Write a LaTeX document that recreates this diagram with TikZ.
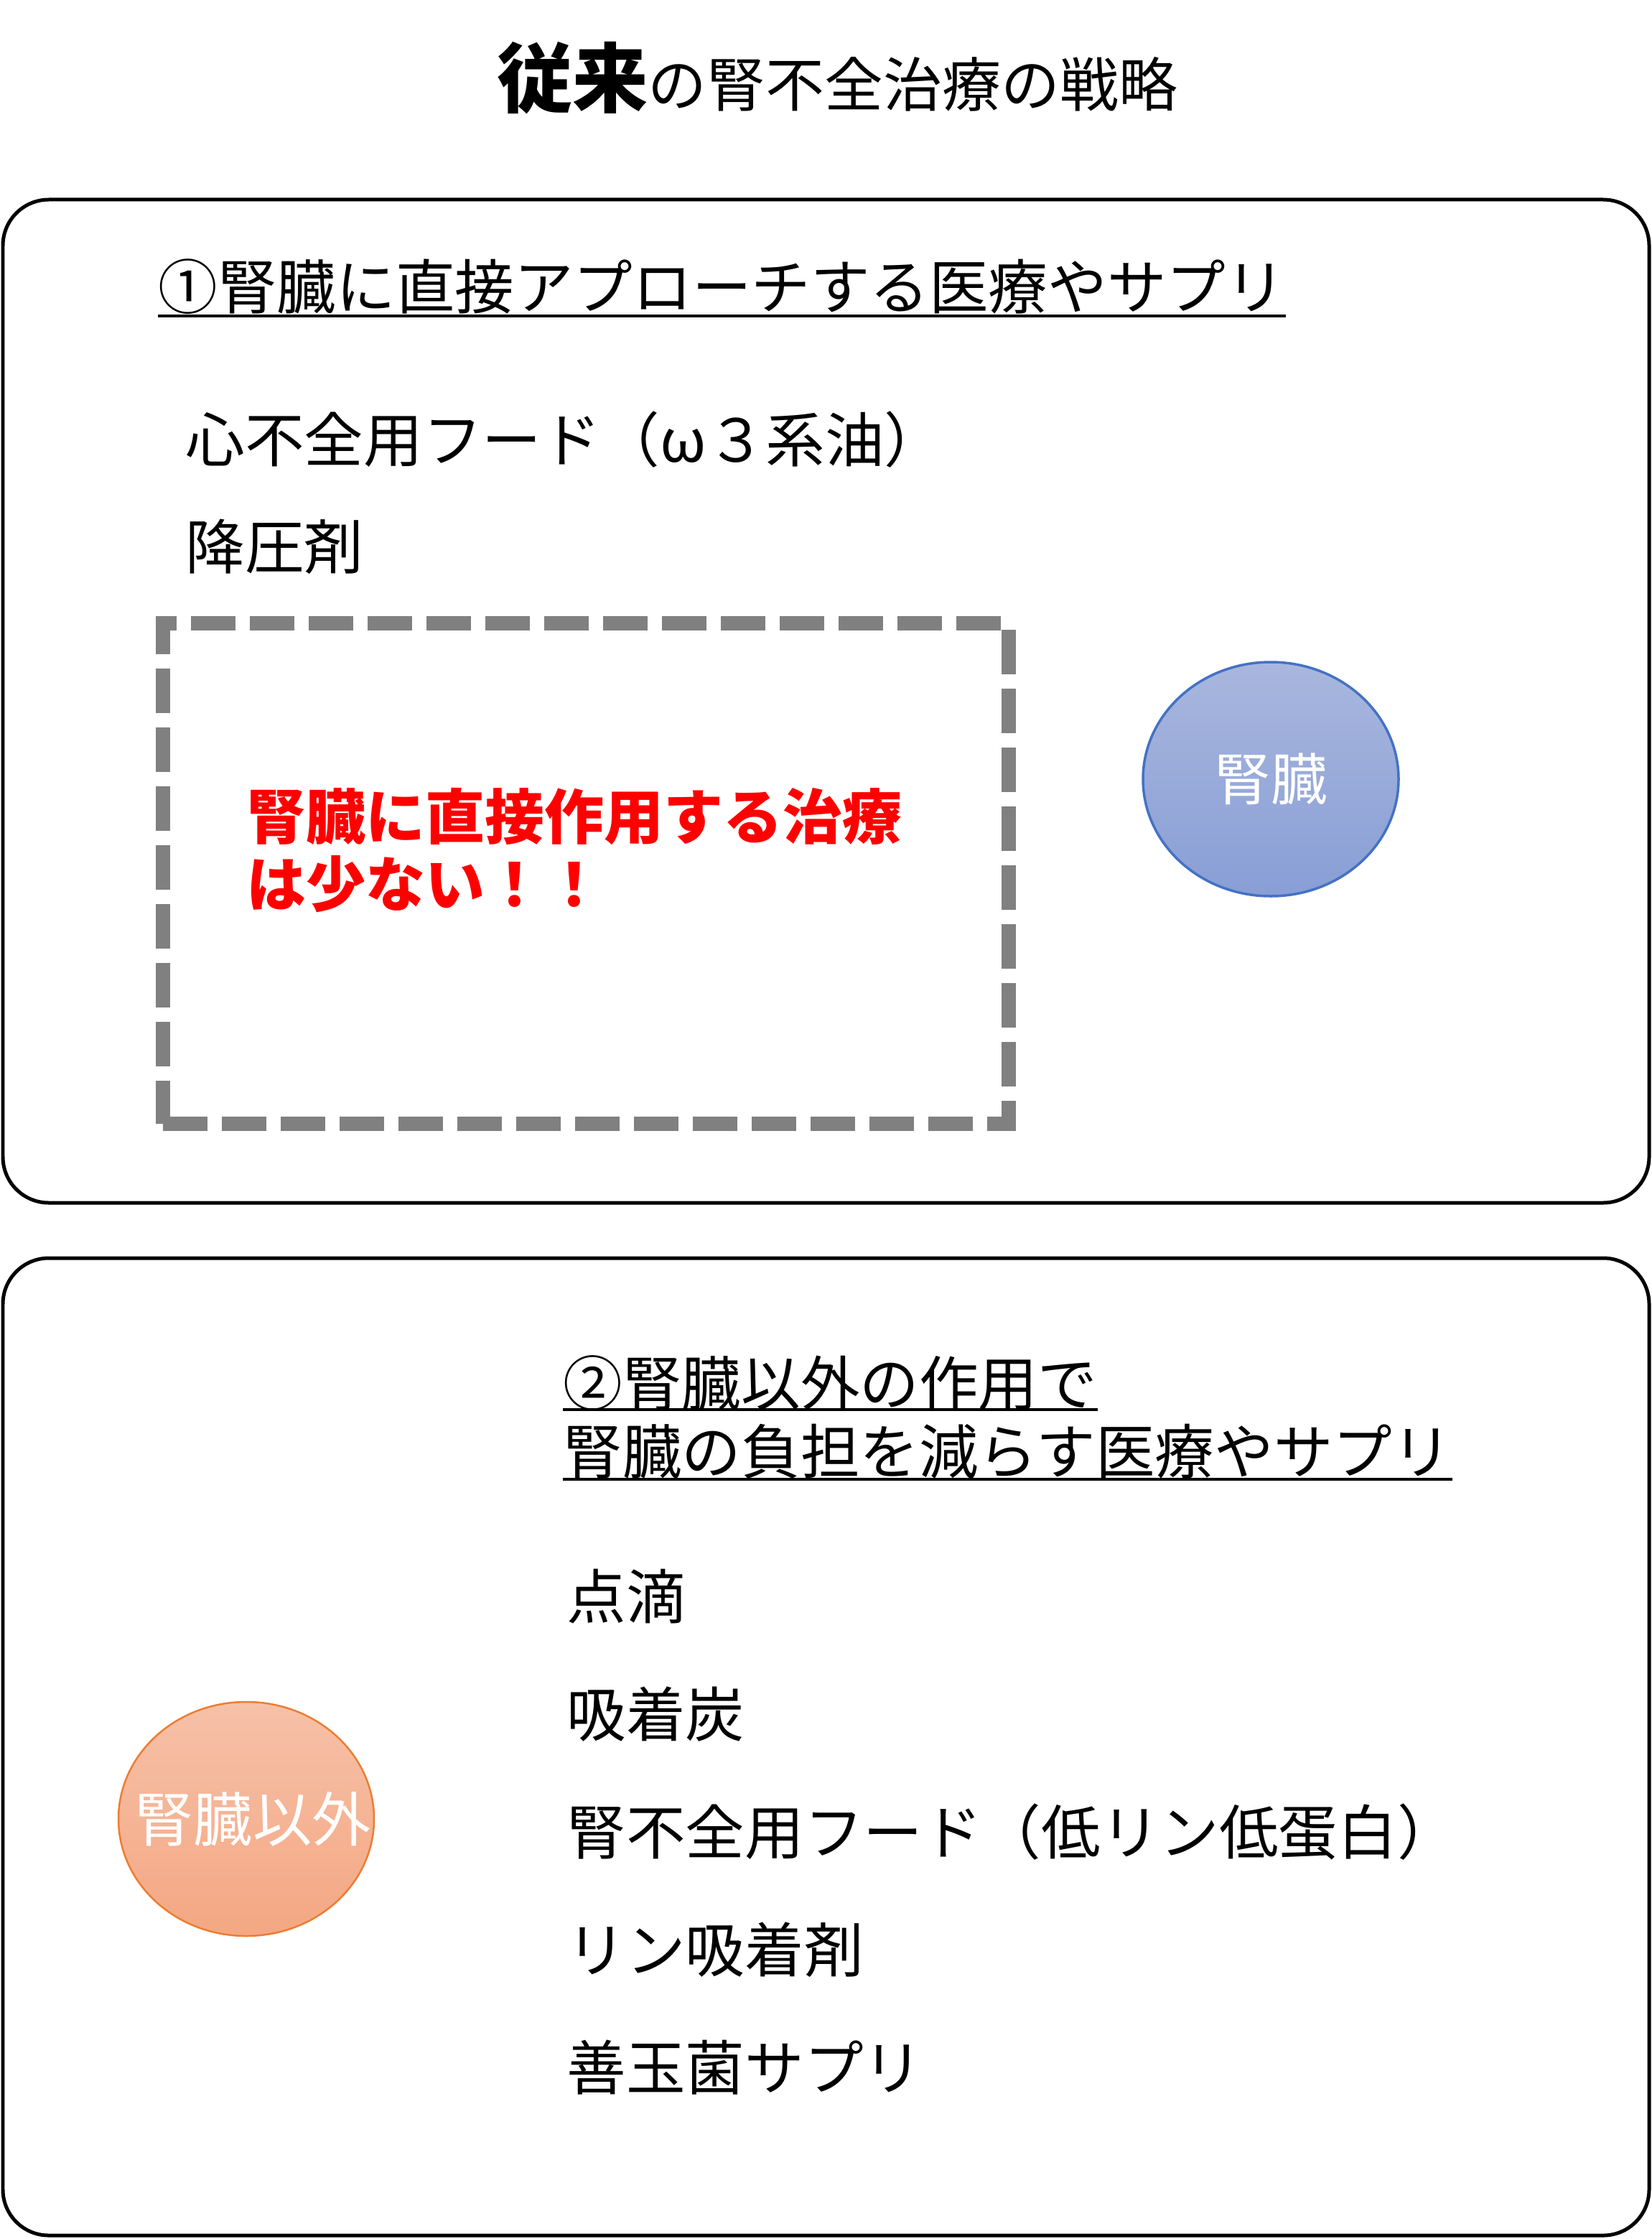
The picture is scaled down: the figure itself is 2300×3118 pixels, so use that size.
\documentclass[tikz,border=0pt]{standalone}
\usepackage{fontspec}
\setmainfont{Noto Sans CJK JP}
\usetikzlibrary{shapes.geometric,positioning}

\definecolor{kidneyTop}{RGB}{169,183,222}
\definecolor{kidneyBot}{RGB}{136,158,213}
\definecolor{kidneyLine}{RGB}{68,114,196}
\definecolor{otherTop}{RGB}{246,193,168}
\definecolor{otherBot}{RGB}{244,167,131}
\definecolor{otherLine}{RGB}{237,125,49}
\definecolor{dashGray}{RGB}{128,128,128}

\tikzset{
  panel/.style={draw=black, line width=0.5mm, rounded corners=6.4mm},
  heading/.style={inner sep=0, anchor=base west, font=\fontsize{23.5}{23.5}\selectfont},
  item/.style={inner sep=0, anchor=base west, font=\fontsize{23.5}{23.5}\selectfont},
  uline/.style={line width=0.45mm},
  organ/.style={ellipse, inner sep=0, minimum width=35.6mm, minimum height=32.6mm,
    text=white, font=\fontsize{22.4}{22.4}\selectfont},
  dashbox/.style={draw=dashGray, line width=2mm, dash pattern=on 6.2mm off 2mm,
    minimum width=117.8mm, minimum height=69.7mm, inner sep=0}
}

\begin{document}
\begin{tikzpicture}[x=0.1mm,y=-0.1mm]

  \useasboundingbox (0,0) rectangle (2300,3118);

  % Title
  \node[inner sep=0, anchor=base, font=\fontsize{23.3}{23.3}\selectfont] (title) at (1166,149)
    {{\bfseries\fontsize{30}{30}\selectfont 従来}の腎不全治療の戦略};

  % Panels
  \draw[panel] (4,278) rectangle (2297,1675);
  \draw[panel] (4,1752) rectangle (2297,3113);

  % Nodes (upper panel)
  \node[heading] (h1) at (220,431) {①腎臓に直接アプローチする医療やサプリ};
  \node[item] (food1) at (258,643) {心不全用フード（ω３系油）};
  \node[item] (bp) at ([yshift=-14.9mm]food1.base west) {降圧剤};

  \node[dashbox] (direct) at (816,1216) {};
  \node[inner sep=0, align=left, text=red, font=\fontsize{23.6}{27}\selectfont\bfseries]
    (few) at ([xshift=-1.6mm,yshift=3.2mm]direct.center) {腎臓に直接作用する治療\\は少ない！！};

  \node[organ, top color=kidneyTop, bottom color=kidneyBot, draw=kidneyLine, line width=0.35mm]
    (kidney) at (1770,1085) {腎臓};

  % Nodes (lower panel)
  \node[heading] (h2a) at (784,1957) {②腎臓以外の作用で};
  \node[heading] (h2b) at ([yshift=-9.5mm]h2a.base west) {腎臓の負担を減らす医療やサプリ};

  \node[item] (drip) at (789,2254) {点滴};
  \node[item] (carbon) at ([yshift=-16.4mm]drip.base west) {吸着炭};
  \node[item] (food2) at ([yshift=-16.4mm]carbon.base west) {腎不全用フード（低リン低蛋白）};
  \node[item] (binder) at ([yshift=-16.4mm]food2.base west) {リン吸着剤};
  \node[item] (probio) at ([yshift=-16.4mm]binder.base west) {善玉菌サプリ};

  \node[organ, top color=otherTop, bottom color=otherBot, draw=otherLine, line width=0.25mm]
    (other) at (343,2533) {\makebox[0pt]{\hspace{1.8mm}\fontsize{23.4}{23.4}\selectfont 腎臓以外}};

  % Underlines
  \draw[uline] ([yshift=-0.9mm]h1.base west) -- ([yshift=-0.9mm]h1.base east);
  \draw[uline] ([yshift=-0.6mm]h2a.base west) -- ([yshift=-0.6mm]h2a.base east);
  \draw[uline] ([yshift=-0.8mm]h2b.base west) -- ([yshift=-0.8mm]h2b.base east);

\end{tikzpicture}
\end{document}
